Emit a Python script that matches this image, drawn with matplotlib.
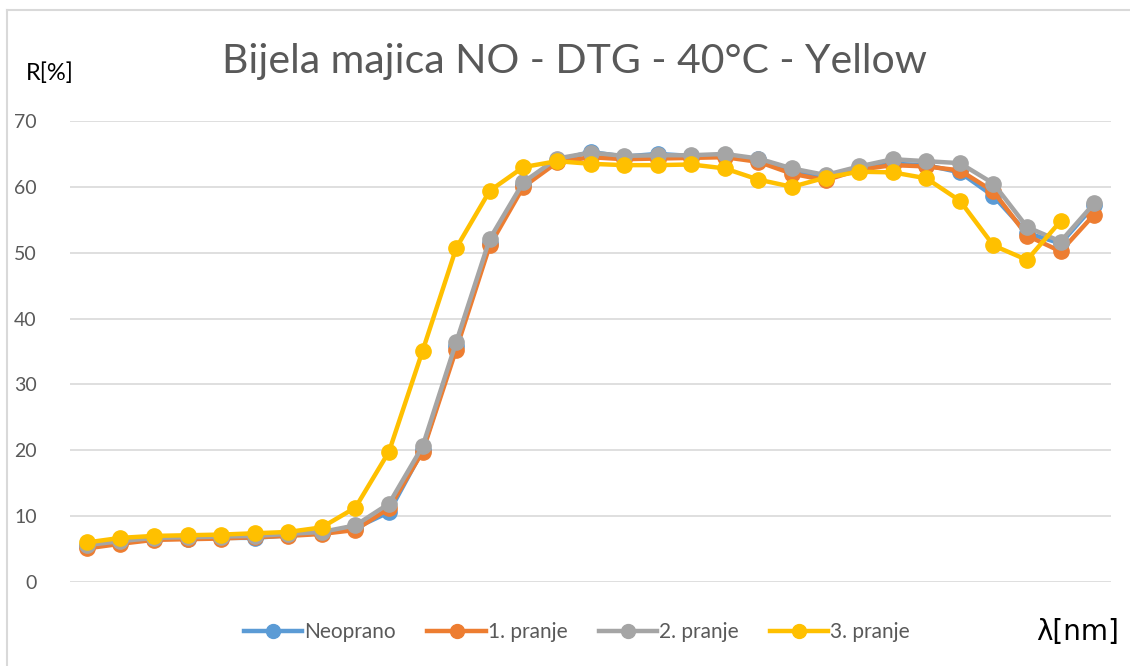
import matplotlib
matplotlib.use("Agg")
import matplotlib.pyplot as plt
from matplotlib.lines import Line2D

plt.rcParams['font.family'] = ['Lato', 'DejaVu Sans']

# reflectance R[%] per measurement point (31 wavelengths, no labels on the axis)
neoprano = [5.4, 6.0, 6.5, 6.6, 6.7, 6.7, 7.1, 7.4, 8.2, 10.6, 20.0, 35.8, 51.5, 60.3, 64.0, 65.3,
            64.6, 65.0, 64.7, 64.8, 64.2, 62.4, 61.5, 62.8, 63.5, 63.3, 62.2, 58.6, 53.0, 51.4, 57.2]
pranje1 = [5.1, 5.8, 6.4, 6.5, 6.6, 6.8, 7.0, 7.3, 7.9, 11.2, 19.8, 35.3, 51.1, 60.0, 63.7, 64.5,
           64.2, 64.3, 64.4, 64.5, 63.8, 62.0, 61.0, 62.6, 63.3, 63.1, 62.5, 59.3, 52.6, 50.2, 55.8]
pranje2 = [5.6, 6.2, 6.7, 6.8, 6.9, 7.0, 7.3, 7.6, 8.6, 11.9, 20.6, 36.4, 52.1, 60.7, 64.3, 65.2,
           64.7, 64.8, 64.8, 65.0, 64.3, 62.8, 61.8, 63.1, 64.2, 63.9, 63.6, 60.5, 53.9, 51.7, 57.5]
pranje3 = [6.0, 6.7, 7.0, 7.1, 7.2, 7.4, 7.6, 8.3, 11.3, 19.8, 35.1, 50.7, 59.4, 63.0, 63.9, 63.5,
           63.3, 63.3, 63.4, 62.8, 61.1, 60.0, 61.4, 62.3, 62.2, 61.3, 57.9, 51.1, 48.9, 54.8]

series = [
    ("Neoprano", neoprano, "#5B9BD5"),
    ("1. pranje", pranje1, "#ED7D31"),
    ("2. pranje", pranje2, "#A5A5A5"),
    ("3. pranje", pranje3, "#FFC000"),
]
y_ticks = [0, 10, 20, 30, 40, 50, 60, 70]

fig = plt.figure(figsize=(11.3, 6.66), dpi=100)
ax = fig.add_axes([70 / 1130, 1 - 582 / 666, 1041 / 1130, 461 / 666])

for name, vals, col in series:
    ax.plot(range(len(vals)), vals, color=col, lw=3.2, marker='o', ms=11,
            solid_capstyle='round', label=name)

ax.set_xlim(-0.5, 30.5)
ax.set_ylim(0, 70)
ax.set_yticks(y_ticks)
ax.set_xticks([])
ax.tick_params(axis='y', length=0, labelsize=14, labelcolor='#595959', pad=24)
ax.grid(axis='y', color='#D9D9D9', lw=1.2)
ax.set_axisbelow(True)
for s in ax.spines.values():
    s.set_visible(False)

fig.text(574 / 1130, 1 - 62 / 666, "Bijela majica NO - DTG - 40°C - Yellow",
         ha='center', va='center', fontsize=29.5, color='#595959')
fig.text(26 / 1130, 1 - 73 / 666, "R[%]", ha='left', va='center', fontsize=17, color='#000000')
fig.text(1119 / 1130, 1 - 632 / 666, "λ[nm]", ha='right', va='center', fontsize=20,
         color='#000000', family=['DejaVu Sans'])

handles = [Line2D([0], [0], color=c, lw=3.2, marker='o', ms=10) for _, _, c in series]
fig.legend(handles, [n for n, _, _ in series], loc='center', bbox_to_anchor=(577 / 1130, 1 - 632 / 666),
           ncol=4, frameon=False, fontsize=15, labelcolor='#595959', handlelength=2.8,
           handletextpad=0.1, columnspacing=1.5)

# thin chart-area border on the left and top
fig.add_artist(Line2D([7 / 1130, 7 / 1130], [0, 1 - 10 / 666], color='#D9D9D9', lw=1.5,
                      transform=fig.transFigure))
fig.add_artist(Line2D([7 / 1130, 1], [1 - 10 / 666, 1 - 10 / 666], color='#D9D9D9', lw=1.5,
                      transform=fig.transFigure))

fig.savefig("out.png", dpi=100)
